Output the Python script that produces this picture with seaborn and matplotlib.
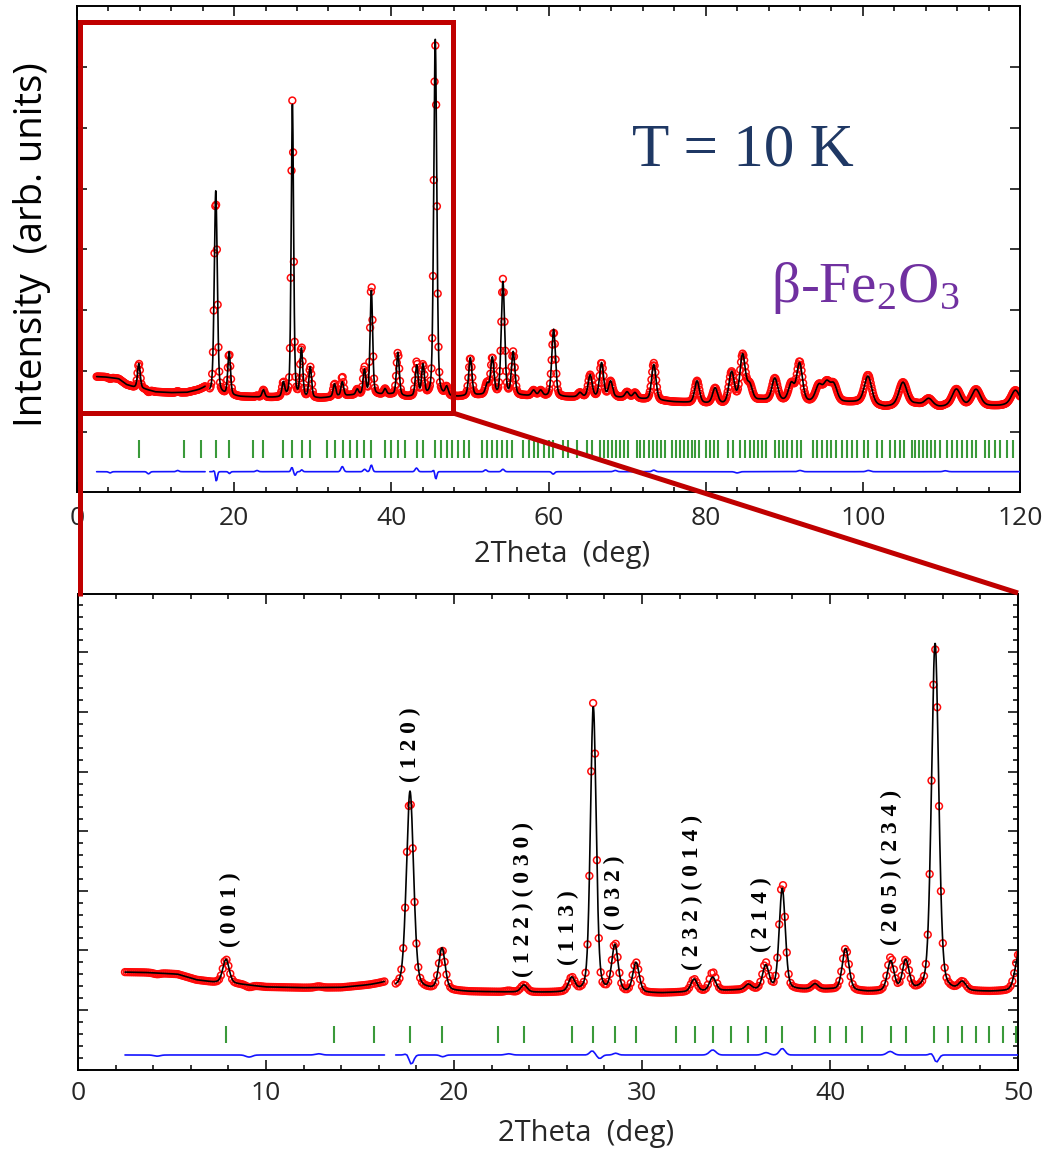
import numpy as np
import pandas as pd
import matplotlib
matplotlib.use("Agg")
import matplotlib.pyplot as plt
import seaborn as sns
from matplotlib.lines import Line2D
from matplotlib.patches import Rectangle
from matplotlib.ticker import MultipleLocator

# ---------------- refinement data (2theta in deg, intensity in counts) ----------------
# calculated reflections: position, peak height above background, FWHM
peak_pos = [7.87, 17.66, 19.36, 23.72, 26.26, 27.41, 28.56, 29.68, 32.77, 33.76,
            35.66, 36.58, 37.46, 39.20, 40.83, 43.23, 44.03, 45.59, 47.04, 50.05,
            52.20, 52.85, 54.20, 55.50, 58.10, 59.00, 60.65, 64.00, 65.30, 66.75,
            67.90, 70.00, 71.00, 73.40, 78.90, 81.20, 83.30, 84.70, 85.60, 88.80,
            90.90, 91.95, 94.40, 95.40, 96.30, 100.65, 105.10, 108.40, 111.90, 114.40,
            119.40]
peak_height = [400, 3320, 700, 120, 230, 4800, 780, 500, 210, 230,
               90, 400, 1700, 90, 700, 500, 500, 5850, 140, 620,
               170, 600, 1850, 700, 90, 90, 1100, 70, 360, 560,
               260, 90, 90, 580, 360, 250, 500, 760, 250, 360,
               280, 620, 260, 290, 270, 450, 370, 110, 280, 270,
               220]
peak_fwhm = [0.40, 0.45, 0.40, 0.40, 0.40, 0.36, 0.40, 0.40, 0.40, 0.40,
             0.40, 0.40, 0.38, 0.40, 0.42, 0.42, 0.42, 0.45, 0.45, 0.48,
             0.50, 0.50, 0.50, 0.50, 0.55, 0.55, 0.55, 0.60, 0.60, 0.60,
             0.60, 0.60, 0.60, 0.65, 0.70, 0.75, 0.80, 0.80, 0.80, 0.85,
             0.85, 0.85, 1.00, 1.00, 1.00, 1.10, 1.20, 1.10, 1.30, 1.30,
             1.20]

# background points
bg_x = [2.5, 3.5, 4.5, 5.3, 6.3, 7.2, 8.5, 10.0, 12.0, 14.0, 15.5, 16.3,
        16.9, 20.8, 25.0, 31.0, 35.0, 40.0, 42.0, 48.5, 51.5, 57.0, 62.0, 70.0,
        76.0, 80.0, 82.3, 87.0, 93.3, 99.4, 102.8, 106.8, 109.7, 117.4, 120.0]
bg_y = [635, 630, 615, 600, 505, 465, 435, 385, 372, 375, 415, 450,
        360, 305, 290, 280, 330, 340, 300, 300, 330, 320, 300, 290,
        220, 195, 185, 250, 215, 215, 140, 190, 140, 160, 200]

# observed minus calculated: position, amplitude, width
diff_pos = [4.2, 9.1, 12.8, 17.55, 17.72, 19.40, 22.9, 27.35, 27.75, 28.60,
            33.76, 36.60, 37.46, 43.20, 45.45, 45.65, 52.0, 54.20, 60.60, 68.5,
            73.40, 84.0, 92.00, 100.70, 110.5]
diff_amp = [-20, -35, 20, 40, -170, -30, 20, 70, -60, 30,
            85, 40, 110, 60, 40, -130, 30, 40, -40, 20,
            25, -20, 20, 20, 15]
diff_fwhm = [0.4, 0.4, 0.4, 0.3, 0.3, 0.3, 0.4, 0.3, 0.3, 0.3,
             0.4, 0.4, 0.35, 0.4, 0.3, 0.3, 0.4, 0.4, 0.4, 0.5,
             0.5, 0.6, 0.6, 0.6, 0.6]

# detector banks (measured 2theta ranges)
bank_start = [2.5, 16.9]
bank_end = [16.3, 120.0]

# Bragg reflection positions of beta-Fe2O3
bragg_pos = [7.85, 13.64, 15.76, 17.64, 19.34, 22.36, 23.72, 26.26, 27.41, 28.58,
             29.68, 31.81, 32.82, 33.79, 34.72, 35.66, 36.58, 37.46, 39.20, 40.00,
             40.83, 41.68, 43.24, 44.03, 45.55, 46.29, 47.04, 47.77, 48.48, 49.19,
             49.92, 51.5, 52.2, 52.8, 53.4, 54.1, 54.7, 55.3, 56.8, 57.5,
             58.1, 58.7, 59.4, 60.0, 60.6, 61.9, 62.5, 63.6, 64.9, 65.5,
             66.6, 67.1, 67.6, 68.1, 68.6, 69.1, 69.6, 70.1, 71.2, 71.7,
             72.2, 72.8, 73.3, 73.8, 74.3, 74.8, 75.7, 76.2, 76.7, 77.2,
             77.7, 78.2, 78.7, 79.2, 80.1, 80.6, 81.1, 81.6, 82.9, 83.5,
             84.4, 85.0, 85.6, 86.1, 86.6, 87.2, 87.7, 88.8, 89.3, 89.9,
             90.4, 91.0, 91.6, 92.1, 93.6, 94.2, 94.8, 95.4, 96.0, 96.6,
             97.4, 98.0, 98.6, 99.2, 100.1, 100.7, 101.8, 102.4, 103.4, 104.1,
             104.7, 105.3, 106.2, 106.7, 107.2, 107.7, 108.2, 108.7, 109.2, 109.8,
             110.7, 111.3, 112.0, 112.6, 113.2, 113.9, 114.4, 115.5, 116.1, 116.8,
             117.4, 118.4, 119.1]

# Miller indices annotated in the low-angle panel
hkl_text = ["(001)", "(120)", "(122)(030)", "(113)", "(032)", "(232)(014)", "(214)", "(205)(234)"]
hkl_x = [8.10, 17.66, 23.69, 26.08, 28.56, 32.69, 36.37, 43.28]
hkl_y = [1057, 3826, 559, 755, 1342, 671, 978, 1091]


# ---------------- profile model ----------------
def pseudo_voigt(x, x0, h, w, eta=0.3):
    d = (x - x0) / w
    return h * (eta / (1 + 4 * d * d) + (1 - eta) * np.exp(-4 * np.log(2) * d * d))


def calculated(x):
    y = np.interp(x, bg_x, bg_y).astype(float)
    for p, h, w in zip(peak_pos, peak_height, peak_fwhm):
        y += pseudo_voigt(x, p, h, w)
    return y


def difference(x):
    y = np.zeros_like(x, dtype=float)
    for p, a, w in zip(diff_pos, diff_amp, diff_fwhm):
        d = (x - p) / w
        y += a * np.exp(-4 * np.log(2) * d * d)
    return y


obs_frames, calc_frames = [], []
for k, (lo, hi) in enumerate(zip(bank_start, bank_end)):
    xo = np.arange(lo, hi + 1e-6, 0.1)
    obs_frames.append(pd.DataFrame({"tth": xo, "obs": calculated(xo) + difference(xo),
                                    "diff": difference(xo), "bank": k}))
    xc = np.arange(lo, hi + 1e-6, 0.02)
    calc_frames.append(pd.DataFrame({"tth": xc, "calc": calculated(xc), "bank": k}))

# ---------------- styling ----------------
sns.set_theme(style="ticks")
plt.rcParams["font.family"] = ["Open Sans", "DejaVu Sans"]
plt.rcParams["mathtext.fontset"] = "custom"
plt.rcParams["mathtext.rm"] = "Liberation Serif"
plt.rcParams["mathtext.it"] = "Liberation Serif:italic"
plt.rcParams["mathtext.bf"] = "Liberation Serif:bold"
plt.rcParams["mathtext.default"] = "regular"

RED_OBS = "#ff0a0a"
GREEN = "#3a9a3a"
BLUE = "#1414ff"
FRAME_RED = "#c00000"

W, H = 1045, 1154
fig = plt.figure(figsize=(W / 100, H / 100), dpi=100)


def px_rect(l, t, r, b):
    return [l / W, 1 - b / H, (r - l) / W, (b - t) / H]


ax_top = fig.add_axes(px_rect(77, 6, 1020, 492))
ax_bot = fig.add_axes(px_rect(78, 594, 1018, 1070))


def draw_panel(ax, diff_offset, tick_lo, tick_hi):
    for obs_df, calc_df in zip(obs_frames, calc_frames):
        sns.scatterplot(data=obs_df, x="tth", y="obs", ax=ax, marker="o", s=24,
                        color=RED_OBS, linewidth=1.1, legend=False, zorder=2)
        coll = ax.collections[-1]
        coll.set_facecolor("none")
        coll.set_edgecolor(RED_OBS)
        sns.lineplot(data=calc_df, x="tth", y="calc", ax=ax, color="black",
                     linewidth=1.2, estimator=None, sort=False, zorder=3)
        sns.lineplot(x=obs_df["tth"], y=obs_df["diff"] + diff_offset, ax=ax,
                     color=BLUE, linewidth=1.2, estimator=None, sort=False, zorder=3)
    ax.vlines(bragg_pos, tick_lo, tick_hi, color=GREEN, linewidth=1.5, zorder=3)
    ax.set_xlabel("2Theta  (deg)", fontsize=21)
    ax.set_ylabel("")
    for s in ax.spines.values():
        s.set_linewidth(1.4)
        s.set_color("black")
    ax.tick_params(which="both", direction="in", top=True, right=True,
                   labelleft=False, width=1.1, color="black")
    ax.tick_params(which="major", length=7, labelsize=19)
    ax.tick_params(which="minor", length=3.5)


# overview panel
draw_panel(ax_top, -919, -695, -400)
ax_top.set_xlim(0, 120)
ax_top.set_ylim(-1251, 6695)
ax_top.xaxis.set_major_locator(MultipleLocator(20))
ax_top.xaxis.set_minor_locator(MultipleLocator(4))
ax_top.set_yticks(-270 + 995 * np.arange(7))
ax_top.tick_params(axis="x", which="major", pad=10)
ax_top.xaxis.set_label_coords(0.514, -0.099)

# low-angle panel
draw_panel(ax_bot, -755, -549, -263)
ax_bot.set_xlim(0, 50)
ax_bot.set_ylim(-1007, 6980)
ax_bot.xaxis.set_major_locator(MultipleLocator(10))
ax_bot.xaxis.set_minor_locator(MultipleLocator(2))
ax_bot.yaxis.set_major_locator(MultipleLocator(1000))
ax_bot.yaxis.set_minor_locator(MultipleLocator(200))
ax_bot.tick_params(axis="x", which="major", pad=8)
ax_bot.xaxis.set_label_coords(0.540, -0.103)

for lab, x, y in zip(hkl_text, hkl_x, hkl_y):
    ax_bot.text(x, y, " ".join(lab), rotation=90, ha="center", va="bottom",
                family="Liberation Serif", fontsize=17, fontweight="bold",
                color="black", zorder=4)

# shared y label and annotations
fig.text(32 / W, 1 - 245 / H, "Intensity  (arb. units)", rotation=90,
         ha="center", va="center", fontsize=27.5, color="black")
fig.text(632 / W, 1 - 165 / H, "T = 10 K", family="Liberation Serif",
         fontsize=44, color="#1f3864", ha="left", va="baseline")
fig.text(771 / W, 1 - 302 / H, "β-Fe$_2$O$_3$", family="Liberation Serif",
         fontsize=41, color="#7030a0", ha="left", va="baseline")

# zoom frame connecting the two panels
fig.add_artist(Rectangle((80 / W, 1 - 413 / H), (453 - 80) / W, (413 - 21.7) / H,
                         transform=fig.transFigure, fill=False, edgecolor=FRAME_RED,
                         linewidth=3.6, joinstyle="miter", zorder=10))
fig.add_artist(Line2D([80 / W, 80 / W], [1 - 413 / H, 1 - 596 / H], color=FRAME_RED,
                      linewidth=3.6, solid_capstyle="butt", transform=fig.transFigure, zorder=10))
fig.add_artist(Line2D([453 / W, 1018 / W], [1 - 413 / H, 1 - 593 / H], color=FRAME_RED,
                      linewidth=3.6, solid_capstyle="butt", transform=fig.transFigure, zorder=10))

fig.savefig("out.png", dpi=100)
